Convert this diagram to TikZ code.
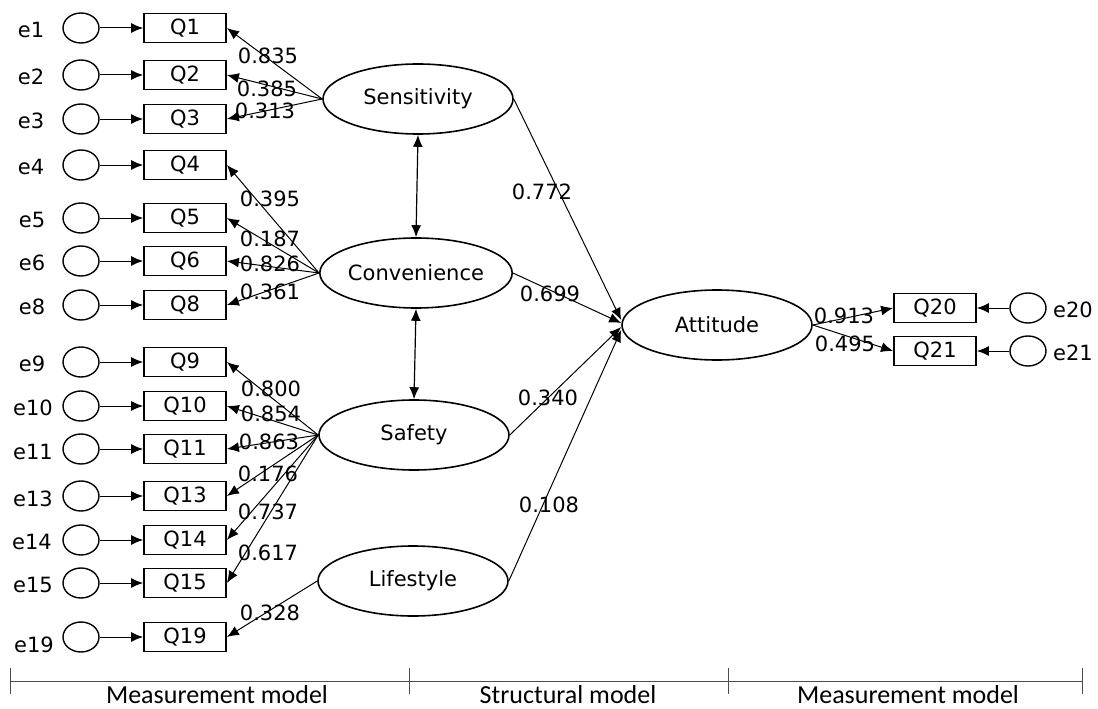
\documentclass[tikz,border=0pt]{standalone}
\usepackage{fontspec}
\setmainfont{DejaVu Sans}
\newfontfamily\modelfont{Carlito}
\usetikzlibrary{shapes.geometric,arrows.meta}

\begin{document}
\begin{tikzpicture}[x=1pt,y=-1pt,
  font=\fontsize{21}{24}\selectfont,
  obs/.style={draw,line width=1.8pt,minimum width=82pt,minimum height=29pt,inner sep=0pt},
  err/.style={draw,ellipse,line width=1.4pt,minimum width=36pt,minimum height=30pt,inner sep=0pt},
  lat/.style={draw,ellipse,line width=1.6pt,minimum width=190pt,minimum height=70pt,inner sep=0pt},
  coef/.style={inner sep=0pt},
  arr/.style={-{Latex[length=12pt,width=10pt]},line width=1pt},
  darr/.style={{Latex[length=12pt,width=10pt]}-{Latex[length=12pt,width=10pt]},line width=1.2pt}]
\useasboundingbox (0,0) rectangle (1098,709);
% latent variables
\node[lat] (sen) at (418,99) {Sensitivity};
\node[lat] (con) at (416,273) {Convenience};
\node[lat] (saf) at (414,435) {Safety};
\node[lat] (lif) at (413,581) {Lifestyle};
\node[lat] (att) at (717,325) {Attitude};
% indicators, left side
\node[obs] (q1) at (185,28) {Q1};
\node[obs] (q2) at (185,75) {Q2};
\node[obs] (q3) at (185,119) {Q3};
\node[obs] (q4) at (185,165) {Q4};
\node[obs] (q5) at (185,218) {Q5};
\node[obs] (q6) at (185,261) {Q6};
\node[obs] (q8) at (185,305) {Q8};
\node[obs] (q9) at (185,362) {Q9};
\node[obs] (q10) at (185,406) {Q10};
\node[obs] (q11) at (185,449) {Q11};
\node[obs] (q13) at (185,496) {Q13};
\node[obs] (q14) at (185,540) {Q14};
\node[obs] (q15) at (185,583) {Q15};
\node[obs] (q19) at (185,637) {Q19};
% error terms, left side
\node[err] (e1) at (81,28) {};
\node[err] (e2) at (81,75) {};
\node[err] (e3) at (81,119) {};
\node[err] (e4) at (81,165) {};
\node[err] (e5) at (81,218) {};
\node[err] (e6) at (81,261) {};
\node[err] (e8) at (81,305) {};
\node[err] (e9) at (81,362) {};
\node[err] (e10) at (81,406) {};
\node[err] (e11) at (81,449) {};
\node[err] (e13) at (81,496) {};
\node[err] (e14) at (81,540) {};
\node[err] (e15) at (81,583) {};
\node[err] (e19) at (81,637) {};
\node (le1) at (31,30) {e1};
\node (le2) at (31,77) {e2};
\node (le3) at (31,121) {e3};
\node (le4) at (31,167) {e4};
\node (le5) at (32,220) {e5};
\node (le6) at (32,263) {e6};
\node (le8) at (32,307) {e8};
\node (le9) at (32,364) {e9};
\node (le10) at (33,408) {e10};
\node (le11) at (33,452) {e11};
\node (le13) at (33,499) {e13};
\node (le14) at (32,542) {e14};
\node (le15) at (33,585) {e15};
\node (le19) at (34,645) {e19};
% indicators, right side
\node[obs] (q20) at (935,308) {Q20};
\node[obs] (q21) at (935,351) {Q21};
\node[err] (e20) at (1028,308) {};
\node[err] (e21) at (1028,351) {};
\node (le20) at (1073,310) {e20};
\node (le21) at (1073,353) {e21};
% error arrows
\draw[arr] (e1) -- (q1);
\draw[arr] (e2) -- (q2);
\draw[arr] (e3) -- (q3);
\draw[arr] (e4) -- (q4);
\draw[arr] (e5) -- (q5);
\draw[arr] (e6) -- (q6);
\draw[arr] (e8) -- (q8);
\draw[arr] (e9) -- (q9);
\draw[arr] (e10) -- (q10);
\draw[arr] (e11) -- (q11);
\draw[arr] (e13) -- (q13);
\draw[arr] (e14) -- (q14);
\draw[arr] (e15) -- (q15);
\draw[arr] (e19) -- (q19);
\draw[arr] (e20) -- (q20);
\draw[arr] (e21) -- (q21);
% loadings
\draw[arr] (sen.west) -- (q1.east);
\draw[arr] (sen.west) -- (q2.east);
\draw[arr] (sen.west) -- (q3.east);
\draw[arr] (con.west) -- (q4.east);
\draw[arr] (con.west) -- (q5.east);
\draw[arr] (con.west) -- (q6.east);
\draw[arr] (con.west) -- (q8.east);
\draw[arr] (saf.west) -- (q9.east);
\draw[arr] (saf.west) -- (q10.east);
\draw[arr] (saf.west) -- (q11.east);
\draw[arr] (saf.west) -- (q13.east);
\draw[arr] (saf.west) -- (q14.east);
\draw[arr] (saf.west) -- (q15.east);
\draw[arr] (lif.west) -- (q19.east);
\draw[arr] (att.east) -- (q20.west);
\draw[arr] (att.east) -- (q21.west);
\node[coef] (c1) at (268,56) {0.835};
\node[coef] (c2) at (267,89) {0.385};
\node[coef] (c3) at (265,111) {0.313};
\node[coef] (c4) at (270,199) {0.395};
\node[coef] (c5) at (270,239) {0.187};
\node[coef] (c6) at (270,264) {0.826};
\node[coef] (c8) at (270,292) {0.361};
\node[coef] (c9) at (271,389) {0.800};
\node[coef] (c10) at (271,414) {0.854};
\node[coef] (c11) at (269,442) {0.863};
\node[coef] (c13) at (268,474) {0.176};
\node[coef] (c14) at (268,512) {0.737};
\node[coef] (c15) at (268,553) {0.617};
\node[coef] (c19) at (270,613) {0.328};
\node[coef] (c20) at (844,316) {0.913};
\node[coef] (c21) at (845,344) {0.495};
% structural paths
\draw[arr] (sen.east) -- ([yshift=5pt]att.west);
\draw[arr] (con.east) -- ([yshift=2pt]att.west);
\draw[arr] (saf.east) -- ([yshift=-2pt]att.west);
\draw[arr] (lif.east) -- ([yshift=-5pt]att.west);
\node[coef] (s1) at (542,192) {0.772};
\node[coef] (s2) at (550,294) {0.699};
\node[coef] (s3) at (548,398) {0.340};
\node[coef] (s4) at (549,505) {0.108};
% covariances
\draw[darr] (sen.south) -- (con.north);
\draw[darr] (con.south) -- (saf.north);
% model sections
\coordinate (m0) at (10,681);
\coordinate (m1) at (409,681);
\coordinate (m2) at (728,681);
\coordinate (m3) at (1082,681);
\draw[line width=1pt,black!70] (m0) -- (m3);
\draw[line width=1pt,black!70] ([yshift=13pt]m0) -- ([yshift=-13pt]m0);
\draw[line width=1pt,black!70] ([yshift=13pt]m1) -- ([yshift=-13pt]m1);
\draw[line width=1pt,black!70] ([yshift=13pt]m2) -- ([yshift=-13pt]m2);
\draw[line width=1pt,black!70] ([yshift=13pt]m3) -- ([yshift=-13pt]m3);
\node[inner sep=0pt,font=\modelfont\fontsize{26}{28}\selectfont] (mm1) at (217,695) {Measurement model};
\node[inner sep=0pt,font=\modelfont\fontsize{26}{28}\selectfont] (sm) at (568,695) {Structural model};
\node[inner sep=0pt,font=\modelfont\fontsize{26}{28}\selectfont] (mm2) at (908,695) {Measurement model};
\end{tikzpicture}
\end{document}
